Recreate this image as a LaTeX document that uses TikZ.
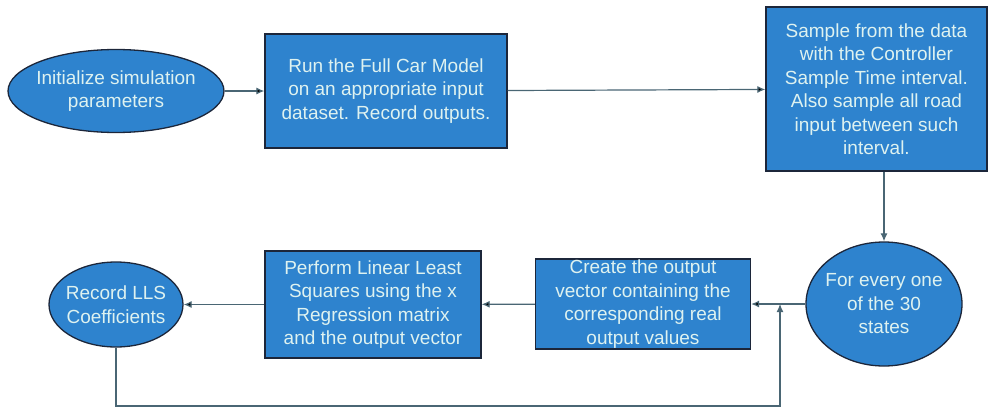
\documentclass[tikz,border=0pt]{standalone}
\usepackage{fontspec}
\setmainfont{Liberation Sans}
\usetikzlibrary{arrows.meta}
\usetikzlibrary{shapes.geometric}
\definecolor{boxblue}{RGB}{46,131,206}
\definecolor{boxline}{RGB}{28,38,58}
\definecolor{boxtext}{RGB}{222,242,240}
\definecolor{flowline}{RGB}{74,102,116}

\begin{document}
\begin{tikzpicture}[x=1pt, y=-1pt,
    main/.style = {draw=boxline, line width=1.3pt, fill=boxblue, text=boxtext, align=center, font=\fontsize{19}{23.5}\selectfont},
    proc/.style = {main, rectangle, inner sep=0pt},
    oval/.style = {main, ellipse, inner xsep=-20pt, inner ysep=0pt},
    flow/.style = {draw=flowline, line width=1.2pt, -{Latex[length=8pt,width=7pt]}}]
                \useasboundingbox (0,0) rectangle (988,407);
                \node[oval, minimum width=216pt, minimum height=83pt] (1) at (116,91) {Initialize simulation\\parameters};
                \node[proc, minimum width=242pt, minimum height=114pt] (2) at (386,91) {Run the Full Car Model\\on an appropriate input\\dataset. Record outputs.};
                \node[proc, minimum width=221pt, minimum height=164pt] (3) at (876.5,89) {Sample from the data\\with the Controller\\Sample Time interval.\\Also sample all road\\input between such\\interval.};
                \node[oval, minimum width=156pt, minimum height=124pt] (4) at (884,304) {For every one\\of the 30\\states};
                \node[proc, minimum width=215pt, minimum height=90pt] (5) at (643,304) {Create the output\\vector containing the\\corresponding real\\output values};
                \node[proc, minimum width=216pt, minimum height=107pt] (6) at (373,304.5) {Perform Linear Least\\Squares using the x\\Regression matrix\\and the output vector};
                \node[oval, minimum width=134pt, minimum height=85pt] (7) at (116,304.5) {Record LLS\\Coefficients};
                \coordinate (8) at (780,406);
                \coordinate (9) at (780,304);
                \path[flow] (1) edge (2);
                \path[flow] (2) edge (3);
                \draw[flow] (3.south -| 4.north) -- (4.north);
                \path[flow] (4) edge (5);
                \path[flow] (5) edge (6);
                \path[flow] (6) edge (7);
                \draw[flow] (7) |- (8) -- (9);
            \end{tikzpicture}
\end{document}
